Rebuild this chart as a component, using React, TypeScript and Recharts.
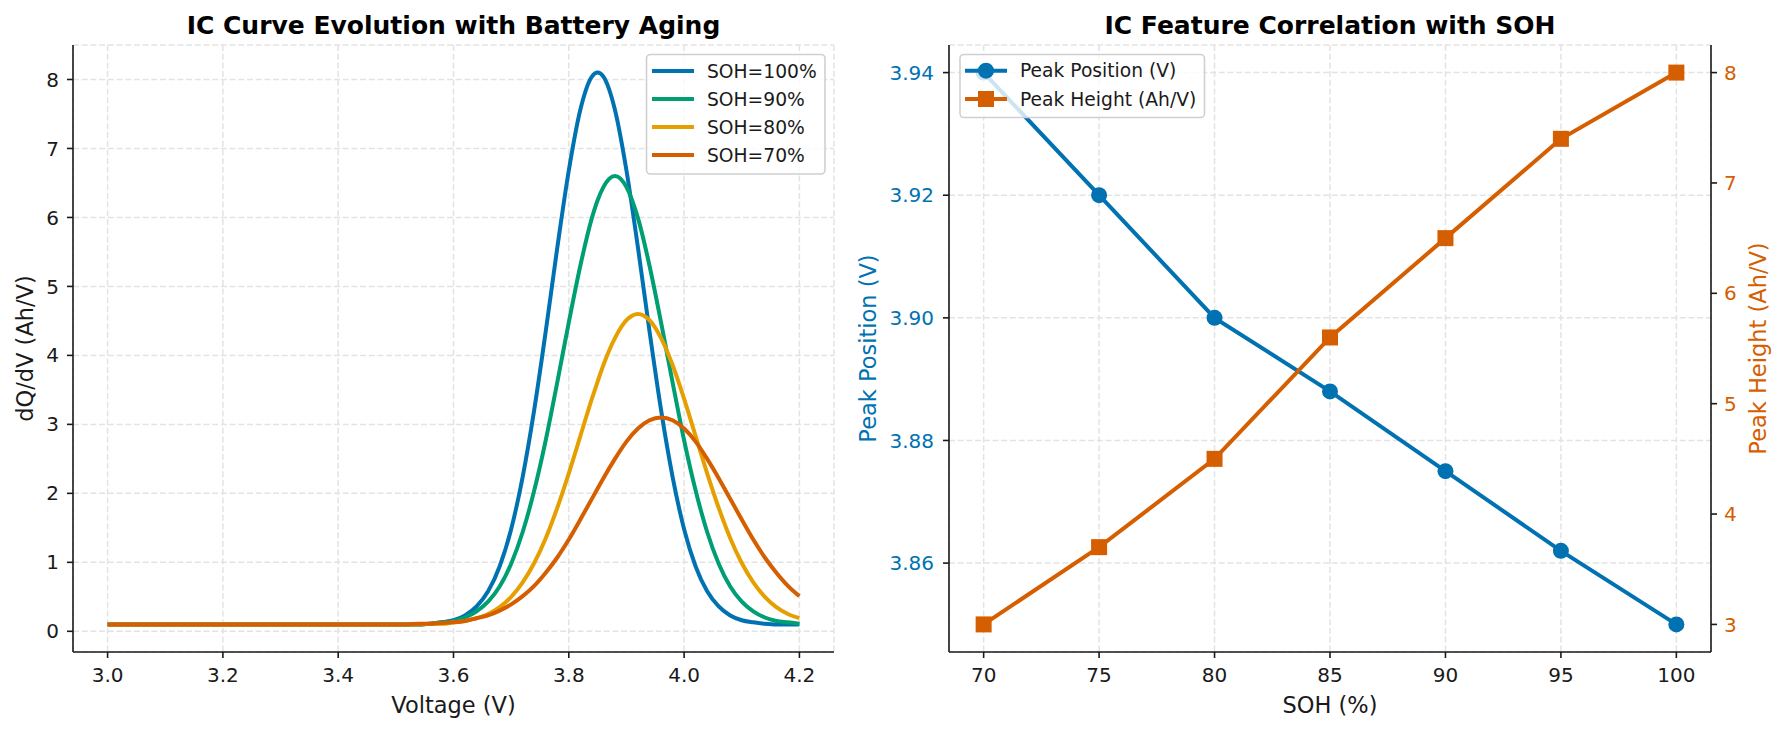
import React from 'react';
import { LineChart, Line, XAxis, YAxis, CartesianGrid } from 'recharts';

// IC curves (dQ/dV), one value per voltage point
const VOLTAGE = [
  3.0, 3.1, 3.2, 3.3, 3.4, 3.5, 3.52, 3.54, 3.56, 3.58, 3.6, 3.62, 3.64, 3.66, 3.68, 3.7, 3.72, 3.74, 3.76, 3.78,
  3.8, 3.82, 3.84, 3.85, 3.86, 3.88, 3.9, 3.92, 3.94, 3.96, 3.98, 4.0, 4.02, 4.04, 4.06, 4.08, 4.1, 4.12, 4.14,
  4.16, 4.18, 4.2,
];
const IC_SOH100 = [
  0.1, 0.1, 0.1, 0.1, 0.1, 0.1, 0.1, 0.1, 0.11, 0.13, 0.16, 0.23, 0.36, 0.58, 0.94, 1.48, 2.24, 3.21, 4.35, 5.56,
  6.68, 7.56, 8.04, 8.1, 8.04, 7.56, 6.68, 5.56, 4.35, 3.21, 2.24, 1.48, 0.94, 0.58, 0.36, 0.23, 0.16, 0.13, 0.11,
  0.1, 0.1, 0.1,
];
const IC_SOH90 = [
  0.1, 0.1, 0.1, 0.1, 0.1, 0.1, 0.1, 0.1, 0.11, 0.13, 0.15, 0.2, 0.29, 0.43, 0.65, 0.98, 1.44, 2.04, 2.77, 3.61,
  4.48, 5.3, 5.99, 6.25, 6.44, 6.6, 6.44, 5.99, 5.3, 4.48, 3.61, 2.77, 2.04, 1.44, 0.98, 0.65, 0.43, 0.29, 0.2,
  0.15, 0.13, 0.11,
];
const IC_SOH80 = [
  0.1, 0.1, 0.1, 0.1, 0.1, 0.1, 0.1, 0.1, 0.11, 0.11, 0.13, 0.15, 0.19, 0.25, 0.35, 0.5, 0.71, 0.99, 1.35, 1.79,
  2.29, 2.83, 3.37, 3.62, 3.86, 4.25, 4.51, 4.6, 4.51, 4.25, 3.86, 3.37, 2.83, 2.29, 1.79, 1.35, 0.99, 0.71, 0.5,
  0.35, 0.25, 0.19,
];
const IC_SOH70 = [
  0.1, 0.1, 0.1, 0.1, 0.1, 0.1, 0.1, 0.11, 0.11, 0.12, 0.13, 0.15, 0.19, 0.23, 0.3, 0.39, 0.51, 0.66, 0.85, 1.07,
  1.33, 1.62, 1.92, 2.07, 2.22, 2.5, 2.75, 2.94, 3.06, 3.1, 3.06, 2.94, 2.75, 2.5, 2.22, 1.92, 1.62, 1.33, 1.07,
  0.85, 0.66, 0.51,
];
const VOLT_TICKS = [3.0, 3.2, 3.4, 3.6, 3.8, 4.0, 4.2];
const IC_TICKS = [0, 1, 2, 3, 4, 5, 6, 7, 8];

// feature correlation
const SOH = [70, 75, 80, 85, 90, 95, 100];
const PEAK_POSITION = [3.94, 3.92, 3.9, 3.888, 3.875, 3.862, 3.85];
const PEAK_HEIGHT = [3.0, 3.7, 4.5, 5.6, 6.5, 7.4, 8.0];
const SOH_TICKS = [70, 75, 80, 85, 90, 95, 100];
const POS_TICKS = [3.86, 3.88, 3.9, 3.92, 3.94];
const HEIGHT_TICKS = [3, 4, 5, 6, 7, 8];

// Okabe-Ito colours
const BLUE = '#0072B2';
const GREEN = '#009E73';
const ORANGE = '#E69F00';
const VERMILLION = '#D55E00';
const INK = '#1a1a1a';
const FONT = "'DejaVu Sans', sans-serif";

const IC_SERIES = [
  { key: 's100', name: 'SOH=100%', color: BLUE, values: IC_SOH100 },
  { key: 's90', name: 'SOH=90%', color: GREEN, values: IC_SOH90 },
  { key: 's80', name: 'SOH=80%', color: ORANGE, values: IC_SOH80 },
  { key: 's70', name: 'SOH=70%', color: VERMILLION, values: IC_SOH70 },
];

const icData = VOLTAGE.map((v, i) => {
  const row: Record<string, number> = { v };
  IC_SERIES.forEach((s) => {
    row[s.key] = s.values[i];
  });
  return row;
});

const featureData = SOH.map((soh, i) => ({ soh, pos: PEAK_POSITION[i], height: PEAK_HEIGHT[i] }));

const tickStyle = (fill: string) => ({ fill, fontSize: 20, fontFamily: FONT });
const axisStroke = { stroke: INK, strokeWidth: 1.6 };
const gridProps = { stroke: '#e3e3e3', strokeWidth: 1.5, strokeDasharray: '6 2.7' };

function SquareDot(props: any) {
  const { cx, cy, index } = props;
  if (cx == null || cy == null) return <g key={`sq-${index}`} />;
  return <rect key={`sq-${index}`} x={cx - 8} y={cy - 8} width={16} height={16} fill={VERMILLION} />;
}

function Overlay() {
  return (
    <svg
      width={1783}
      height={734}
      style={{ position: 'absolute', left: 0, top: 0, pointerEvents: 'none', fontFamily: FONT }}
    >
      {/* titles */}
      <text x={453.5} y={33.5} textAnchor="middle" fontSize={25} fontWeight="bold" fill="#000">
        IC Curve Evolution with Battery Aging
      </text>
      <text x={1330} y={33.5} textAnchor="middle" fontSize={25} fontWeight="bold" fill="#000">
        IC Feature Correlation with SOH
      </text>

      {/* axis labels */}
      <text x={453.5} y={713} textAnchor="middle" fontSize={22.5} fill={INK}>
        Voltage (V)
      </text>
      <text x={1330} y={713} textAnchor="middle" fontSize={22.5} fill={INK}>
        SOH (%)
      </text>
      <text transform="translate(33,348.5) rotate(-90)" textAnchor="middle" fontSize={22.5} fill={INK}>
        dQ/dV (Ah/V)
      </text>
      <text transform="translate(876,348.5) rotate(-90)" textAnchor="middle" fontSize={22.5} fill={BLUE}>
        Peak Position (V)
      </text>
      <text transform="translate(1766,348.5) rotate(-90)" textAnchor="middle" fontSize={22.5} fill={VERMILLION}>
        Peak Height (Ah/V)
      </text>

      {/* legend, left panel */}
      <rect x={646.5} y={54.5} width={178.5} height={119.5} rx={4} fill="#fff" fillOpacity={0.8} stroke="#d0d0d0" strokeWidth={1.6} />
      {IC_SERIES.map((s, i) => (
        <g key={s.key}>
          <line x1={652} x2={694} y1={71 + i * 28} y2={71 + i * 28} stroke={s.color} strokeWidth={4} />
          <text x={707} y={71 + i * 28} dominantBaseline="central" fontSize={18.7} fill={INK}>
            {s.name}
          </text>
        </g>
      ))}

      {/* legend, right panel */}
      <rect x={960} y={54.5} width={244.5} height={63} rx={4} fill="#fff" fillOpacity={0.8} stroke="#d0d0d0" strokeWidth={1.6} />
      <line x1={965} x2={1007} y1={70.7} y2={70.7} stroke={BLUE} strokeWidth={4} />
      <circle cx={986} cy={70.7} r={8} fill={BLUE} />
      <text x={1020} y={70.7} dominantBaseline="central" fontSize={18.7} fill={INK}>
        Peak Position (V)
      </text>
      <line x1={965} x2={1007} y1={99} y2={99} stroke={VERMILLION} strokeWidth={4} />
      <rect x={978} y={91} width={16} height={16} fill={VERMILLION} />
      <text x={1020} y={99} dominantBaseline="central" fontSize={18.7} fill={INK}>
        Peak Height (Ah/V)
      </text>
    </svg>
  );
}

export default function App() {
  return (
    <div style={{ position: 'absolute', left: 0, top: 0, width: 1783, height: 734, background: '#fff', fontFamily: FONT }}>
      <div style={{ position: 'absolute', left: 0, top: 0 }}>
        <LineChart width={900} height={734} data={icData} margin={{ top: 45, right: 66, bottom: 42, left: 13 }}>
          <CartesianGrid {...gridProps} />
          <XAxis
            dataKey="v"
            type="number"
            domain={[2.94, 4.26]}
            ticks={VOLT_TICKS}
            allowDataOverflow
            interval={0}
            height={40}
            tickSize={6}
            tickMargin={10}
            tick={tickStyle(INK)}
            tickFormatter={(v: number) => v.toFixed(1)}
            axisLine={axisStroke}
            tickLine={axisStroke}
          />
          <YAxis
            type="number"
            domain={[-0.3, 8.5]}
            ticks={IC_TICKS}
            allowDataOverflow
            interval={0}
            width={60}
            tickSize={6}
            tickMargin={8}
            tick={tickStyle(INK)}
            axisLine={axisStroke}
            tickLine={axisStroke}
          />
          {IC_SERIES.map((s) => (
            <Line
              key={s.key}
              type="monotone"
              dataKey={s.key}
              name={s.name}
              stroke={s.color}
              strokeWidth={4}
              dot={false}
              activeDot={false}
              isAnimationActive={false}
            />
          ))}
        </LineChart>
      </div>

      <div style={{ position: 'absolute', left: 880, top: 0 }}>
        <LineChart width={903} height={734} data={featureData} margin={{ top: 45, right: 12, bottom: 42, left: 9 }}>
          <CartesianGrid {...gridProps} yAxisId="pos" />
          <XAxis
            dataKey="soh"
            type="number"
            domain={[68.5, 101.5]}
            ticks={SOH_TICKS}
            allowDataOverflow
            interval={0}
            height={40}
            tickSize={6}
            tickMargin={10}
            tick={tickStyle(INK)}
            axisLine={axisStroke}
            tickLine={axisStroke}
          />
          <YAxis
            yAxisId="pos"
            orientation="left"
            type="number"
            domain={[3.8455, 3.9445]}
            ticks={POS_TICKS}
            allowDataOverflow
            interval={0}
            width={60}
            tickSize={6}
            tickMargin={9}
            tick={tickStyle(BLUE)}
            tickFormatter={(v: number) => v.toFixed(2)}
            axisLine={axisStroke}
            tickLine={axisStroke}
          />
          <YAxis
            yAxisId="height"
            orientation="right"
            type="number"
            domain={[2.75, 8.25]}
            ticks={HEIGHT_TICKS}
            allowDataOverflow
            interval={0}
            width={60}
            tickSize={6}
            tickMargin={7}
            tick={tickStyle(VERMILLION)}
            axisLine={axisStroke}
            tickLine={axisStroke}
          />
          <Line
            yAxisId="pos"
            type="linear"
            dataKey="pos"
            name="Peak Position (V)"
            stroke={BLUE}
            strokeWidth={4}
            dot={{ r: 8, fill: BLUE, stroke: BLUE, strokeWidth: 0 }}
            activeDot={false}
            isAnimationActive={false}
          />
          <Line
            yAxisId="height"
            type="linear"
            dataKey="height"
            name="Peak Height (Ah/V)"
            stroke={VERMILLION}
            strokeWidth={4}
            dot={SquareDot}
            activeDot={false}
            isAnimationActive={false}
          />
        </LineChart>
      </div>

      <Overlay />
    </div>
  );
}
